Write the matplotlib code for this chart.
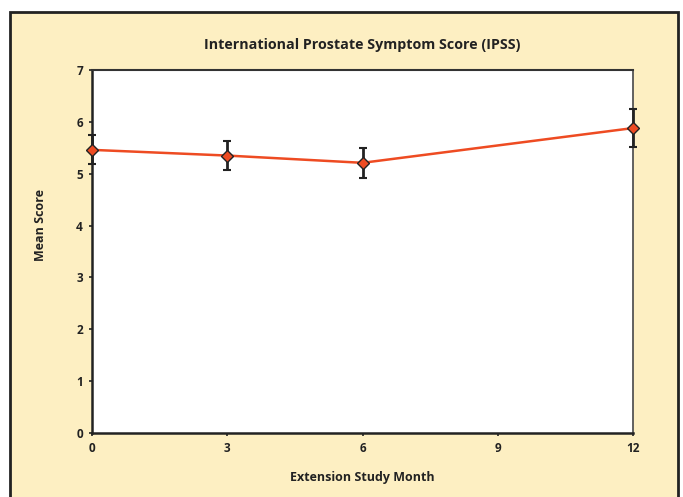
import matplotlib.pyplot as plt
from matplotlib.patches import Rectangle

plt.rcParams['font.family'] = ['Open Sans', 'DejaVu Sans']

months = [0, 3, 6, 12]
mean_score = [5.46, 5.35, 5.21, 5.88]
err = [0.28, 0.28, 0.29, 0.37]

bg = '#FDEFC2'
line_col = '#EE4B22'

fig = plt.figure(figsize=(6.83, 4.97), dpi=100)
fig.patch.set_facecolor('white')
# beige panel with dark frame, bottom edge runs off the page
fig.patches.append(Rectangle((10 / 683, -0.05), 668 / 683, 1.05 - 12 / 497,
                             transform=fig.transFigure, facecolor=bg,
                             edgecolor='#222222', linewidth=2, zorder=-10))

ax = fig.add_axes([92 / 683, 1 - 433 / 497, 541 / 683, 363 / 497])
ax.set_zorder(1)
ax.set_facecolor('white')
eb = ax.errorbar(months, mean_score, yerr=err, fmt='none', ecolor='#222222',
                 elinewidth=2, capsize=3, capthick=1.5, zorder=3)
# end points sit on the spines, keep their whiskers whole
for art in eb.lines[1] + eb.lines[2]:
    art.set_clip_on(False)
ax.plot(months, mean_score, color=line_col, linewidth=1.8, marker='D',
        markersize=6, markerfacecolor=line_col, markeredgecolor='#222222',
        markeredgewidth=1, zorder=4, clip_on=False)

ax.set_xlim(0, 12)
ax.set_ylim(0, 7)
ax.set_xticks([0, 3, 6, 9, 12])
ax.set_yticks(range(8))
ax.tick_params(axis='both', labelsize=8.5, length=2.5, width=1.2, color='#222222',
               pad=4)
for lbl in ax.get_xticklabels() + ax.get_yticklabels():
    lbl.set_fontweight('bold')
    lbl.set_color('#222222')

for s in ['left', 'bottom']:
    ax.spines[s].set_linewidth(1.8)
    ax.spines[s].set_color('#222222')
ax.spines['top'].set_linewidth(1.5)
ax.spines['top'].set_color('#333333')
ax.spines['right'].set_linewidth(1.3)
ax.spines['right'].set_color('#555555')

fig.text(362 / 683, 1 - 45 / 497, 'International Prostate Symptom Score (IPSS)',
         ha='center', va='center', fontsize=10.3, fontweight='bold', color='#222222')
fig.text(40 / 683, 1 - 225 / 497, 'Mean Score', rotation=90,
         ha='center', va='center', fontsize=9, fontweight='bold', color='#222222')
fig.text(362 / 683, 1 - 477 / 497, 'Extension Study Month',
         ha='center', va='center', fontsize=9, fontweight='bold', color='#222222')

fig.savefig('out.png', dpi=100, facecolor=fig.get_facecolor())
